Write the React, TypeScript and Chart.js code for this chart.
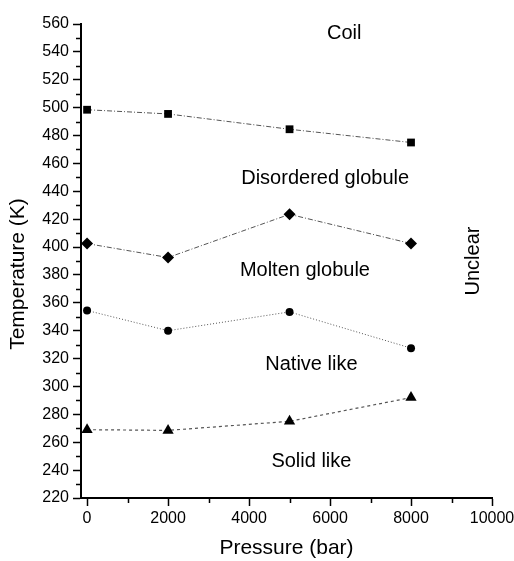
import React, { useEffect, useRef } from "react";
import { Chart, registerables } from "chart.js";

Chart.register(...registerables);

const pressures = [0, 2000, 5000, 8000];
const coilBoundary = [498.5, 495.5, 484.5, 475];
const moltenBoundary = [402.5, 392.5, 423.5, 402.5];
const nativeBoundary = [354.5, 340, 353.5, 327.5];
const solidBoundary = [269, 268.5, 275, 292];

const xTickValues = [0, 2000, 4000, 6000, 8000, 10000];
const xMinorValues = [1000, 3000, 5000, 7000, 9000];
const yMinorValues = [230, 250, 270, 290, 310, 330, 350, 370, 390, 410, 430, 450, 470, 490, 510, 530, 550];

const regionLabels = ["Coil", "Disordered globule", "Molten globule", "Native like", "Solid like"];
const regionLabelX = [6350, 5880, 5380, 5540, 5540];
const regionLabelY = [553.5, 449.5, 383.5, 316, 246];
const sideLabel = "Unclear";
const sideLabelX = 9550;
const sideLabelY = 390;

const xTitle = "Pressure (bar)";
const yTitle = "Temperature (K)";

const FONT = "'Liberation Sans', Arial, Helvetica, sans-serif";

const toPoints = (ys: number[]) => pressures.map((x, i) => ({ x, y: ys[i] }));

const annotationPlugin = {
  id: "annotations",
  afterDraw(chart: any) {
    const { ctx, scales, chartArea } = chart;
    const xs = scales.x;
    const ys = scales.y;
    ctx.save();
    // minor ticks
    ctx.strokeStyle = "#000";
    ctx.lineWidth = 1.5;
    ctx.beginPath();
    yMinorValues.forEach((v) => {
      const py = Math.round(ys.getPixelForValue(v)) + 0.5;
      ctx.moveTo(chartArea.left - 1, py);
      ctx.lineTo(chartArea.left - 5, py);
    });
    xMinorValues.forEach((v) => {
      const px = Math.round(xs.getPixelForValue(v)) + 0.5;
      ctx.moveTo(px, chartArea.bottom + 1);
      ctx.lineTo(px, chartArea.bottom + 5);
    });
    ctx.stroke();
    // region labels
    ctx.fillStyle = "#000";
    ctx.font = `20px ${FONT}`;
    ctx.textAlign = "center";
    ctx.textBaseline = "middle";
    regionLabels.forEach((t, i) => {
      ctx.fillText(t, xs.getPixelForValue(regionLabelX[i]), ys.getPixelForValue(regionLabelY[i]));
    });
    ctx.save();
    ctx.translate(xs.getPixelForValue(sideLabelX), ys.getPixelForValue(sideLabelY));
    ctx.rotate(-Math.PI / 2);
    ctx.fillText(sideLabel, 0, 0);
    ctx.restore();
    // y axis title
    ctx.font = `21px ${FONT}`;
    ctx.translate(18, (chartArea.top + chartArea.bottom) / 2 + 13);
    ctx.rotate(-Math.PI / 2);
    ctx.fillText(yTitle, 0, 0);
    ctx.restore();
  },
};

export default function App() {
  const ref = useRef<HTMLCanvasElement | null>(null);
  useEffect(() => {
    if (!ref.current) return;
    const lineColor = "#555";
    const chart = new Chart(ref.current, {
      type: "line",
      data: {
        datasets: [
          {
            data: toPoints(coilBoundary),
            borderColor: lineColor,
            borderWidth: 1,
            borderDash: [5, 2, 1, 2],
            pointStyle: "rect",
            pointRadius: 5.5,
            pointBackgroundColor: "#000",
            pointBorderColor: "#000",
            pointBorderWidth: 0,
          },
          {
            data: toPoints(moltenBoundary),
            borderColor: lineColor,
            borderWidth: 1,
            borderDash: [5, 2, 1, 2],
            pointStyle: "rectRot",
            pointRadius: 6,
            pointBackgroundColor: "#000",
            pointBorderColor: "#000",
            pointBorderWidth: 0,
          },
          {
            data: toPoints(nativeBoundary),
            borderColor: lineColor,
            borderWidth: 1,
            borderDash: [1, 2],
            pointStyle: "circle",
            pointRadius: 4,
            pointBackgroundColor: "#000",
            pointBorderColor: "#000",
            pointBorderWidth: 0,
          },
          {
            data: toPoints(solidBoundary),
            borderColor: lineColor,
            borderWidth: 1.2,
            borderDash: [3, 3],
            pointStyle: "triangle",
            pointRadius: 6.5,
            pointBackgroundColor: "#000",
            pointBorderColor: "#000",
            pointBorderWidth: 0,
          },
        ],
      },
      options: {
        animation: false,
        responsive: false,
        devicePixelRatio: 1,
        layout: { padding: { top: 24, right: 22, left: 0, bottom: 0 } },
        plugins: { legend: { display: false }, tooltip: { enabled: false } },
        scales: {
          x: {
            type: "linear",
            min: -150,
            max: 10000,
            afterBuildTicks: (scale: any) => {
              scale.ticks = xTickValues.map((v) => ({ value: v }));
            },
            afterFit: (scale: any) => {
              scale.height = 63;
              scale.paddingLeft = 0;
              scale.paddingRight = 0;
            },
            ticks: {
              color: "#000",
              font: { family: FONT, size: 16 },
              padding: 3,
              maxRotation: 0,
              autoSkip: false,
              callback: (v: any) => String(v),
            },
            grid: {
              display: true,
              drawOnChartArea: false,
              drawTicks: true,
              tickLength: 8,
              tickWidth: 1.5,
              tickColor: "#000",
            },
            border: { display: true, color: "#000", width: 2 },
            title: {
              display: true,
              text: xTitle,
              color: "#000",
              font: { family: FONT, size: 21 },
              padding: { top: 0, bottom: 0 },
            },
          },
          y: {
            type: "linear",
            min: 220,
            max: 560,
            afterFit: (scale: any) => {
              scale.width = 81;
            },
            ticks: {
              stepSize: 20,
              color: "#000",
              font: { family: FONT, size: 16 },
              padding: 4,
            },
            grid: {
              display: true,
              drawOnChartArea: false,
              drawTicks: true,
              tickLength: 8,
              tickWidth: 1.5,
              tickColor: "#000",
            },
            border: { display: true, color: "#000", width: 2 },
            title: { display: false },
          },
        },
      },
      plugins: [annotationPlugin],
    });
    return () => chart.destroy();
  }, []);
  return (
    <canvas
      ref={ref}
      width={514}
      height={561}
      style={{ position: "absolute", left: 0, top: 0, display: "block", background: "#fff" }}
    />
  );
}
